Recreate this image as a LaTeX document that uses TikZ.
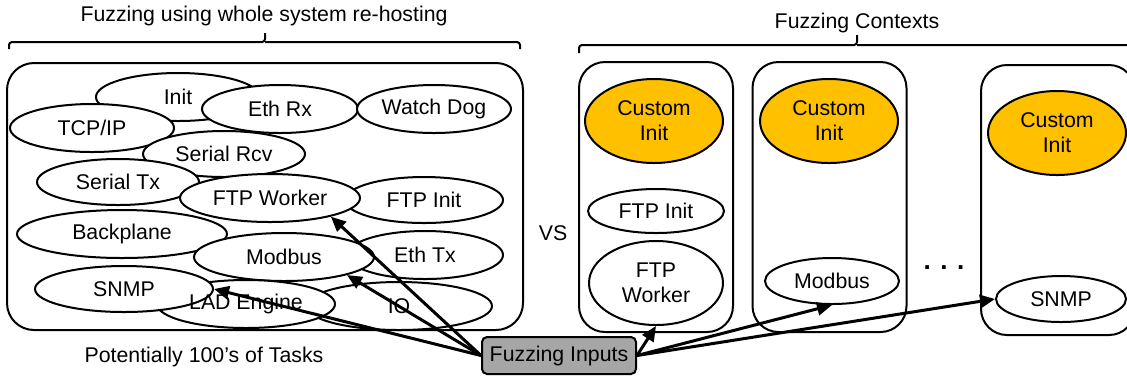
\documentclass[tikz,border=0pt]{standalone}
\usepackage{fontspec}
\setmainfont{Liberation Sans}
\usetikzlibrary{shapes.geometric,arrows.meta}

\definecolor{initorange}{HTML}{FFC000}
\definecolor{inputgray}{HTML}{A6A6A6}

\begin{document}
\begin{tikzpicture}[
  x=0.5pt, y=-0.5pt,
  font=\fontsize{10.65}{12.5}\selectfont,
  >={Triangle[length=7.5pt,width=6.5pt]},
  task/.style={ellipse, draw=black, fill=white, line width=1pt, inner sep=0pt},
  initnode/.style={task, fill=initorange, align=center},
  ctxbox/.style={draw=black, line width=1pt, rounded corners=13pt, minimum width=77pt, minimum height=135pt},
  feedmap/.style={->, draw=black, line width=1.5pt},
  bracket/.style={draw=black, line width=1pt, rounded corners=1.5pt}
]
  \useasboundingbox (0,0) rectangle (1127,377);
  \clip (0,0) rectangle (1127,377);

  \node (sysname) at (264,16) {Fuzzing using whole system re-hosting};
  \node (ctxname) at (857,22.5) {Fuzzing Contexts};
  \draw[bracket] (9,49) -- (9,42) -- (265,42) -- (265,33);
  \draw[bracket] (265,42) -- (520,42) -- (520,49);
  \draw[bracket] (579,53) -- (579,45) -- (857,45) -- (857,35);
  \draw[bracket] (857,45) -- (1135,45) -- (1135,53);

  \node[draw=black, line width=1pt, rounded corners=13.5pt, minimum width=258pt, minimum height=133.5pt] (sysbox) at (265,196.5) {};
  \node[task, minimum width=82pt, minimum height=24pt] (init) at (178,97) {Init};
  \node[task, minimum width=82pt, minimum height=24pt] (tcpip) at (92,128) {TCP/IP};
  \node[task, minimum width=78pt, minimum height=24pt] (ethrx) at (280,109) {Eth Rx};
  \node[task, minimum width=77pt, minimum height=24pt] (watchdog) at (434,109) {Watch Dog};
  \node[task, minimum width=81pt, minimum height=23pt] (serrcv) at (224,154) {Serial Rcv};
  \node[task, minimum width=81pt, minimum height=23pt] (sertx) at (118,182) {Serial Tx};
  \node[task, minimum width=79pt, minimum height=23pt] (ftpinit) at (424,200) {FTP Init};
  \node[task, minimum width=90pt, minimum height=24pt] (ftpwork) at (270,198) {FTP Worker};
  \node[task, minimum width=105pt, minimum height=24pt] (backplane) at (122,234) {Backplane};
  \node[task, minimum width=78pt, minimum height=24pt] (ethtx) at (425,255) {Eth Tx};
  \node[task, minimum width=93pt, minimum height=24pt] (io) at (399,306) {IO};
  \node[task, minimum width=90pt, minimum height=24pt] (modbus) at (284,257) {Modbus};
  \node[task, minimum width=89pt, minimum height=24pt] (lad) at (246,304) {};
  \node[task, minimum width=89pt, minimum height=23pt] (snmp) at (124,289) {SNMP};
  \node (ladname) at (lad) {LAD Engine};
  \node (tasknote) at (204,356.5) {Potentially 100’s of Tasks};

  \node (vs) at (553,233) {VS};

  \node[ctxbox] (ctx1) at (656,197) {};
  \node[ctxbox] (ctx2) at (829.5,197) {};
  \node[ctxbox] (ctx3) at (1058,200) {};
  \node[initnode, minimum width=69pt, minimum height=42pt] (cinit1) at (654,121) {Custom\\Init};
  \node[initnode, minimum width=69pt, minimum height=42pt] (cinit2) at (829,121) {Custom\\Init};
  \node[initnode, minimum width=69pt, minimum height=42pt] (cinit3) at (1057,133) {Custom\\Init};
  \node[task, minimum width=68pt, minimum height=22pt] (ftpinit2) at (656,211) {FTP Init};
  \node[task, align=center, minimum width=67pt, minimum height=42pt] (ftpwork2) at (656,283) {FTP\\Worker};
  \node[task, minimum width=67pt, minimum height=23pt] (modbus2) at (832,281) {Modbus};
  \node[task, minimum width=65pt, minimum height=23pt] (snmp2) at (1061,299) {SNMP};
  \node[font=\fontsize{13}{15}\bfseries] (dots) at (944,268) {. . .};

  \node[draw=black, fill=inputgray, line width=1pt, rounded corners=2.5pt, inner sep=0pt, minimum width=77pt, minimum height=18.5pt] (fin) at (559,355.5) {Fuzzing Inputs};
  \draw[feedmap] (fin.west) -- (ftpwork.-17);
  \draw[feedmap] (fin.west) -- (modbus.-16);
  \draw[feedmap] (fin.west) -- (snmp.east);
  \draw[feedmap] (fin.east) -- (ftpwork2.south);
  \draw[feedmap] (fin.east) -- (modbus2.south);
  \draw[feedmap] (fin.east) -- (snmp2.west);
\end{tikzpicture}
\end{document}
